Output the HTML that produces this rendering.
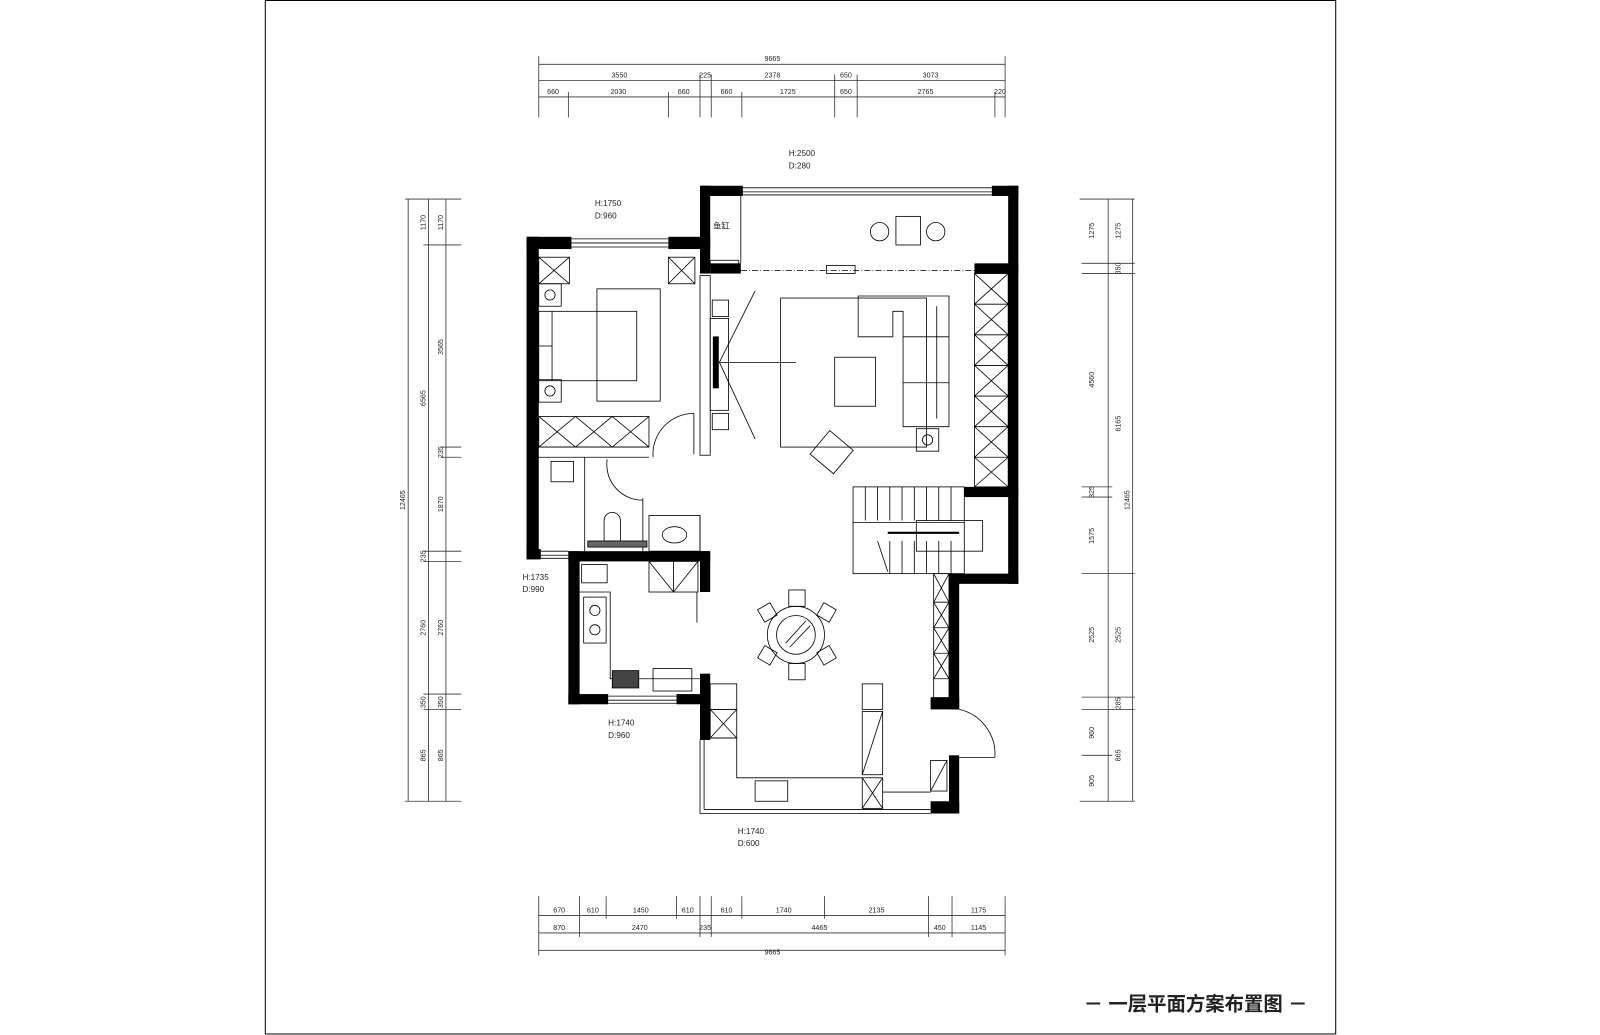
<!DOCTYPE html>
<html><head><meta charset="utf-8"><style>
html,body{margin:0;padding:0;background:#fff;}
svg{display:block;}
text{font-family:"Liberation Sans","Noto Sans CJK SC",sans-serif;fill:#222;}
.d{font-size:7px;}
.l{font-size:8px;}
</style></head><body>
<svg width="1600" height="1035" viewBox="0 0 1568 1014" preserveAspectRatio="none" xmlns="http://www.w3.org/2000/svg">
<rect x="0" y="0" width="1568" height="1014" fill="#fff"/>
<g stroke="#000" stroke-width="1" fill="none">
<line x1="260" y1="0" x2="260" y2="1013"/>
<line x1="1309" y1="0" x2="1309" y2="1013"/>
<line x1="260" y1="1013" x2="1309" y2="1013"/>
<line x1="260" y1="0.5" x2="1309" y2="0.5"/>
</g>

<g stroke="#333" stroke-width="0.8" fill="none">
<line x1="528" y1="63" x2="985" y2="63"/>
<line x1="528" y1="79" x2="985" y2="79"/>
<line x1="528" y1="95" x2="985" y2="95"/>
<line x1="528" y1="55" x2="528" y2="115"/>
<line x1="985" y1="55" x2="985" y2="115"/>
<line x1="686" y1="73" x2="686" y2="115"/><line x1="697" y1="73" x2="697" y2="115"/>
<line x1="818" y1="73" x2="818" y2="115"/><line x1="840" y1="73" x2="840" y2="115"/>
<line x1="557" y1="90" x2="557" y2="115"/><line x1="655" y1="90" x2="655" y2="115"/>
<line x1="727" y1="90" x2="727" y2="115"/><line x1="975" y1="90" x2="975" y2="115"/>
</g>
<g class="d" text-anchor="middle">
<text x="757" y="60">9665</text>
<text x="607" y="76">3550</text><text x="691" y="76">225</text><text x="757" y="76">2378</text><text x="829" y="76">650</text><text x="912" y="76">3073</text>
<text x="542" y="92">660</text><text x="606" y="92">2030</text><text x="670" y="92">660</text><text x="712" y="92">660</text><text x="772" y="92">1725</text><text x="829" y="92">650</text><text x="907" y="92">2765</text><text x="980" y="92">220</text>
</g>

<g stroke="#333" stroke-width="0.8" fill="none">
<line x1="528" y1="897" x2="985" y2="897"/>
<line x1="528" y1="914" x2="985" y2="914"/>
<line x1="528" y1="931" x2="985" y2="931"/>
<line x1="528" y1="878" x2="528" y2="936"/><line x1="985" y1="878" x2="985" y2="936"/>
<line x1="568" y1="878" x2="568" y2="918"/><line x1="594" y1="878" x2="594" y2="900"/>
<line x1="663" y1="878" x2="663" y2="900"/><line x1="686" y1="878" x2="686" y2="918"/>
<line x1="697" y1="878" x2="697" y2="918"/><line x1="727" y1="878" x2="727" y2="900"/>
<line x1="808" y1="878" x2="808" y2="900"/><line x1="910" y1="878" x2="910" y2="918"/>
<line x1="933" y1="878" x2="933" y2="918"/>
</g>
<g class="d" text-anchor="middle">
<text x="548" y="894">670</text><text x="581" y="894">610</text><text x="628" y="894">1450</text><text x="674" y="894">610</text>
<text x="712" y="894">610</text><text x="768" y="894">1740</text><text x="859" y="894">2135</text><text x="959" y="894">1175</text>
<text x="548" y="911">870</text><text x="627" y="911">2470</text><text x="691" y="911">235</text><text x="803" y="911">4465</text><text x="921" y="911">450</text><text x="959" y="911">1145</text>
<text x="757" y="935">9665</text>
</g>

<g stroke="#333" stroke-width="0.8" fill="none">
<line x1="397" y1="195" x2="452" y2="195"/>
<line x1="397" y1="785" x2="452" y2="785"/>
<line x1="400" y1="195" x2="400" y2="785"/>
<line x1="420" y1="195" x2="420" y2="785"/>
<line x1="437" y1="195" x2="437" y2="785"/>
<line x1="415" y1="240" x2="452" y2="240"/>
<line x1="432" y1="438" x2="452" y2="438"/><line x1="432" y1="448" x2="452" y2="448"/>
<line x1="415" y1="540" x2="452" y2="540"/><line x1="415" y1="550" x2="452" y2="550"/>
<line x1="415" y1="680" x2="452" y2="680"/><line x1="415" y1="695" x2="452" y2="695"/>
</g>
<g class="d" text-anchor="middle">
<text transform="translate(417,218) rotate(-90)">1170</text><text transform="translate(434,218) rotate(-90)">1170</text>
<text transform="translate(417,390) rotate(-90)">6565</text><text transform="translate(434,340) rotate(-90)">3565</text>
<text transform="translate(434,443) rotate(-90)">235</text><text transform="translate(434,494) rotate(-90)">1870</text>
<text transform="translate(417,545) rotate(-90)">235</text>
<text transform="translate(417,615) rotate(-90)">2760</text><text transform="translate(434,615) rotate(-90)">2760</text>
<text transform="translate(417,688) rotate(-90)">350</text><text transform="translate(434,688) rotate(-90)">350</text>
<text transform="translate(417,740) rotate(-90)">865</text><text transform="translate(434,740) rotate(-90)">865</text>
<text transform="translate(397,490) rotate(-90)">12465</text>
</g>

<g stroke="#333" stroke-width="0.8" fill="none">
<line x1="1058" y1="195" x2="1112" y2="195"/>
<line x1="1058" y1="785" x2="1112" y2="785"/>
<line x1="1086" y1="195" x2="1086" y2="785"/>
<line x1="1110" y1="195" x2="1110" y2="785"/>
<line x1="1060" y1="258" x2="1112" y2="258"/><line x1="1060" y1="268" x2="1112" y2="268"/>
<line x1="1060" y1="477" x2="1090" y2="477"/><line x1="1060" y1="487" x2="1090" y2="487"/>
<line x1="1060" y1="562" x2="1112" y2="562"/>
<line x1="1060" y1="683" x2="1112" y2="683"/><line x1="1060" y1="695" x2="1112" y2="695"/>
<line x1="1060" y1="740" x2="1090" y2="740"/>
</g>
<g class="d" text-anchor="middle">
<text transform="translate(1072,226) rotate(-90)">1275</text><text transform="translate(1098,226) rotate(-90)">1275</text>
<text transform="translate(1098,263) rotate(-90)">350</text>
<text transform="translate(1072,372) rotate(-90)">4560</text><text transform="translate(1098,415) rotate(-90)">6165</text>
<text transform="translate(1072,482) rotate(-90)">325</text>
<text transform="translate(1072,525) rotate(-90)">1575</text>
<text transform="translate(1072,622) rotate(-90)">2525</text><text transform="translate(1098,622) rotate(-90)">2525</text>
<text transform="translate(1098,689) rotate(-90)">285</text>
<text transform="translate(1072,718) rotate(-90)">960</text><text transform="translate(1098,740) rotate(-90)">865</text>
<text transform="translate(1072,765) rotate(-90)">905</text>
<text transform="translate(1107,490) rotate(-90)">12465</text>
</g>

<g fill="#000">
<rect x="516" y="232" width="12" height="316"/>
<rect x="516" y="232" width="44" height="12"/>
<rect x="655" y="232" width="41" height="12"/>
<rect x="686" y="182" width="10" height="86"/>
<rect x="686" y="182" width="42" height="10"/>
<rect x="972" y="182" width="26" height="10"/>
<rect x="988" y="182" width="10" height="390"/>
<rect x="696" y="258" width="30" height="10"/>
<rect x="955" y="258" width="43" height="10"/>
<rect x="945" y="477" width="53" height="10"/>
<rect x="930" y="562" width="68" height="10"/>
<rect x="930" y="562" width="10" height="133"/>
<rect x="912" y="683" width="28" height="12"/>
<rect x="930" y="740" width="10" height="57"/>
<rect x="912" y="785" width="28" height="12"/>
<rect x="516" y="538" width="14" height="10"/>
<rect x="557" y="540" width="139" height="10"/>
<rect x="557" y="540" width="11" height="150"/>
<rect x="686" y="540" width="10" height="40"/>
<rect x="557" y="680" width="39" height="10"/>
<rect x="663" y="680" width="33" height="10"/>
<rect x="686" y="660" width="10" height="65"/>
</g>

<g stroke="#000" stroke-width="0.8" fill="none">
<line x1="560" y1="234" x2="655" y2="234"/><line x1="560" y1="238" x2="655" y2="238"/><line x1="560" y1="242" x2="655" y2="242"/>
<line x1="728" y1="184" x2="972" y2="184"/><line x1="728" y1="188" x2="972" y2="188"/><line x1="728" y1="191" x2="972" y2="191"/>
<line x1="596" y1="682" x2="663" y2="682"/><line x1="596" y1="686" x2="663" y2="686"/><line x1="596" y1="689" x2="663" y2="689"/>
<line x1="530" y1="540" x2="557" y2="540"/><line x1="530" y1="544" x2="557" y2="544"/><line x1="530" y1="547" x2="557" y2="547"/>
<line x1="686" y1="725" x2="686" y2="797"/><line x1="690" y1="725" x2="690" y2="793"/>
<line x1="686" y1="797" x2="912" y2="797"/><line x1="690" y1="793" x2="912" y2="793"/>
<line x1="726" y1="192" x2="726" y2="258"/>
<line x1="726" y1="265" x2="955" y2="265" stroke-dasharray="6,2,1,2"/>
<rect x="810" y="260" width="28" height="8"/>
<circle cx="862" cy="227" r="9"/><circle cx="917" cy="227" r="9"/>
<rect x="878" y="212" width="24" height="28"/>
<rect x="696" y="255" width="28" height="6"/>
<rect x="528" y="278" width="22" height="22"/><rect x="528" y="372" width="22" height="22"/>
<circle cx="539" cy="289" r="5"/><circle cx="539" cy="383" r="5"/>
<rect x="585" y="283" width="62" height="110"/>
<rect x="528" y="305" width="96" height="68"/>
<line x1="541" y1="305" x2="541" y2="373"/><line x1="528" y1="339" x2="541" y2="339"/>
<rect x="528" y="408" width="108" height="30"/>
<path d="M528 408 L564 438 M564 408 L528 438 M564 408 L600 438 M600 408 L564 438 M600 408 L636 438 M636 408 L600 438"/>
<line x1="528" y1="448" x2="636" y2="448"/><line x1="528" y1="438" x2="636" y2="438"/>
<rect x="528" y="252" width="30" height="26"/><path d="M528 252 L558 278 M558 252 L528 278"/>
<rect x="655" y="252" width="26" height="26"/><path d="M655 252 L681 278 M681 252 L655 278"/>
<path d="M640 448 A40 40 0 0 1 680 405"/><line x1="680" y1="405" x2="680" y2="445"/>
<rect x="686" y="270" width="10" height="176"/>
<rect x="698" y="294" width="16" height="16"/><rect x="698" y="405" width="16" height="16"/>
<rect x="696" y="312" width="18" height="90"/>
<rect x="699" y="330" width="5" height="50" fill="#000"/>
<line x1="705" y1="355" x2="740" y2="285"/><line x1="705" y1="355" x2="740" y2="430"/><line x1="705" y1="355" x2="780" y2="355"/>
<rect x="765" y="292" width="143" height="146"/>
<rect x="818" y="350" width="40" height="48"/>
<path d="M841 290 L930 290 L930 418 L885 418 L885 305 L875 305 L875 330 L841 330 Z"/>
<line x1="885" y1="330" x2="930" y2="330"/><line x1="885" y1="375" x2="930" y2="375"/><line x1="918" y1="300" x2="918" y2="410"/>
<rect x="898" y="420" width="22" height="22"/><circle cx="909" cy="431" r="5"/>
<rect x="800" y="428" width="30" height="30" transform="rotate(40 815 443)"/>
<rect x="955" y="268" width="33" height="209"/>
<path d="M955 268 L988 298 L955 328 L988 358 L955 388 L988 418 L955 448 L988 477 M988 268 L955 298 L988 328 L955 358 L988 388 L955 418 L988 448 L955 477 M955 298 H988 M955 328 H988 M955 358 H988 M955 388 H988 M955 418 H988 M955 448 H988"/>
<rect x="836" y="477" width="109" height="85"/>
<path d="M848 477V510 M860 477V510 M872 477V510 M884 477V510 M896 477V510 M908 477V510 M920 477V510 M932 477V510 M872 530V562 M884 530V562 M896 530V562 M908 530V562 M920 530V562 M932 530V562"/>
<line x1="836" y1="512" x2="945" y2="512"/>
<line x1="870" y1="522" x2="940" y2="522" stroke-width="2"/>
<rect x="898" y="510" width="65" height="30"/>
<line x1="860" y1="530" x2="870" y2="560"/>
<rect x="915" y="562" width="15" height="123"/>
<path d="M915 562L930 590L915 615L930 640L915 665 M930 562L915 590L930 615L915 640L930 665 M915 590H930 M915 615H930 M915 640H930 M915 665H930"/>
<path d="M940 695 A45 45 0 0 1 975 742"/><line x1="940" y1="742" x2="975" y2="742"/>
<circle cx="780" cy="622" r="28"/><circle cx="780" cy="622" r="19"/>
<line x1="770" y1="630" x2="790" y2="608"/><line x1="774" y1="634" x2="794" y2="613"/>
<rect x="773" y="578" width="16" height="16"/><rect x="773" y="650" width="16" height="16"/>
<rect x="745" y="593" width="14" height="14" transform="rotate(-30 752 600)"/>
<rect x="803" y="593" width="14" height="14" transform="rotate(30 810 600)"/>
<rect x="745" y="635" width="14" height="14" transform="rotate(30 752 642)"/>
<rect x="803" y="635" width="14" height="14" transform="rotate(-30 810 642)"/>
<line x1="573" y1="448" x2="573" y2="540"/>
<rect x="540" y="452" width="22" height="20"/>
<path d="M595 450 A35 35 0 0 0 630 490"/><line x1="630" y1="488" x2="630" y2="540"/>
<path d="M592 530 L592 510 A8 8 0 0 1 608 510 L608 530 Z"/>
<rect x="576" y="530" width="58" height="6" fill="#666"/>
<rect x="636" y="505" width="50" height="35"/><ellipse cx="661" cy="524" rx="12" ry="8"/>
<line x1="686" y1="505" x2="686" y2="540"/>
<rect x="636" y="550" width="48" height="30"/><path d="M636 550L660 580L684 550M660 550V580"/>
<line x1="683" y1="580" x2="683" y2="610"/>
<path d="M568 580 L598 580 L598 665 L686 665"/>
<rect x="572" y="585" width="22" height="45"/><circle cx="583" cy="598" r="5"/><circle cx="583" cy="617" r="5"/>
<rect x="600" y="657" width="26" height="17" fill="#444"/>
<rect x="640" y="655" width="38" height="22"/>
<rect x="570" y="553" width="25" height="18"/>
<rect x="696" y="670" width="26" height="25"/>
<rect x="696" y="695" width="26" height="28"/><path d="M696 695L722 723M722 695L696 723"/>
<path d="M696 723 L722 723 L722 762 L845 762"/>
<rect x="740" y="765" width="32" height="20"/>
<rect x="845" y="670" width="20" height="25"/>
<rect x="845" y="697" width="20" height="62"/><line x1="845" y1="759" x2="865" y2="697"/>
<rect x="845" y="762" width="20" height="30"/><path d="M845 762L865 792M865 762L845 792"/>
<line x1="865" y1="776" x2="912" y2="776"/>
<rect x="912" y="745" width="16" height="30"/><line x1="912" y1="775" x2="928" y2="745"/>
</g>

<g class="l">
<text x="773" y="153">H:2500</text><text x="773" y="165">D:280</text>
<text x="583" y="202">H:1750</text><text x="583" y="214">D:960</text>
<text x="512" y="568">H:1735</text><text x="512" y="580">D:990</text>
<text x="596" y="711">H:1740</text><text x="596" y="723">D:960</text>
<text x="723" y="817">H:1740</text><text x="723" y="829">D:600</text>
<text x="699" y="224" style="font-size:8px">鱼缸</text>
</g>
<text x="1062" y="990" style="font-size:19px;font-weight:600">－ 一层平面方案布置图 －</text>
</svg>
</body></html>
